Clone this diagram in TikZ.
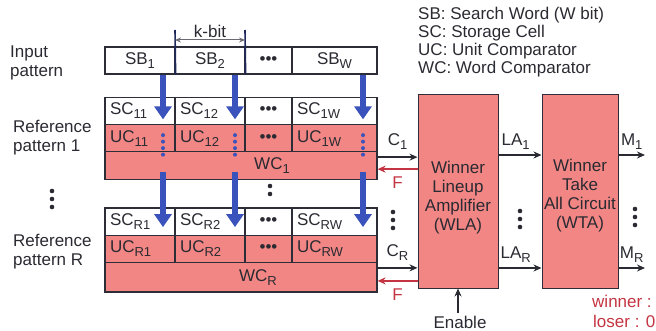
\documentclass[tikz,border=0pt]{standalone}
\usepackage{fontspec}
\setmainfont{Liberation Sans}
\usetikzlibrary{arrows.meta, calc, positioning}
\definecolor{cellfill}{RGB}{242, 134, 132}
\definecolor{cellstroke}{RGB}{45, 45, 55}
\definecolor{textcol}{RGB}{42, 42, 50}
\definecolor{searchblue}{RGB}{58, 82, 188}
\definecolor{feedred}{RGB}{196, 52, 66}
\definecolor{kbitcol}{RGB}{30, 40, 90}
\newcommand{\cellfont}{\fontsize{17}{19}\selectfont}
\newcommand{\legendfont}{\fontsize{17}{18}\selectfont}
% subscript as printed in the cells (nearly full size, dropped)
\newcommand{\sbs}[1]{\raisebox{-4pt}{\fontsize{13}{13}\selectfont #1}}
\newcommand{\rowDots}{•••}
\tikzset{
  % cells of the search word and of the reference patterns
  cell/.style={
    draw=cellstroke, line width=1.2pt, inner xsep=5pt, inner ysep=0pt,
    text=textcol, font=\cellfont, align=left
  },
  cw70/.style={text width=60pt},
  cw47/.style={text width=37pt, align=center},
  cw85/.style={text width=75pt},
  sbcell/.style={cell, fill=white, minimum height=27pt, align=center},
  sccell/.style={cell, fill=white, minimum height=27.5pt},
  uccell/.style={cell, fill=cellfill, minimum height=27pt},
  wcrow/.style={cell, fill=cellfill, minimum width=272pt},
  wclabel/.style={text=textcol, font=\cellfont, inner sep=0pt},
  %
  % WLA / WTA blocks
  circuit/.style={
    draw=cellstroke, line width=1pt, fill=cellfill,
    minimum height=193pt, inner sep=0pt
  },
  blocktext/.style={align=center, font=\cellfont, text=textcol, inner sep=0pt},
  %
  % plain texts
  rowlabel/.style={anchor=west, align=left, inner sep=0pt, font=\cellfont, text=textcol},
  legendtext/.style={anchor=west, align=left, inner sep=0pt, font=\legendfont, text=textcol},
  siglabel/.style={inner sep=0pt, font=\cellfont, text=textcol},
  feedlabel/.style={inner sep=0pt, font=\cellfont, text=feedred},
  outlabel/.style={anchor=west, inner sep=0pt, font=\cellfont, text=feedred},
  % vertical "more rows" marks: three round dots
  vdots/.style={draw=textcol, line width=4.6pt, line cap=round, dash pattern=on 0pt off 8pt},
  %
  % connectors
  searchflow/.style={
    draw=searchblue, line width=6pt, -{Triangle[width=17pt, length=13pt]}
  },
  searchdots/.style={
    draw=searchblue, line width=4pt, line cap=round, dash pattern=on 0pt off 6.5pt
  },
  sigarrow/.style={draw=textcol, line width=1.6pt, -{Stealth[length=8pt, width=7pt]}},
  feedback/.style={draw=feedred, line width=1.6pt, -{Stealth[length=8pt, width=7pt]}},
  kbit mark/.style={draw=kbitcol, line width=1.6pt},
  kbit arrow/.style={
    draw=textcol!70, line width=1pt,
    {Stealth[length=6pt, width=5pt]}-{Stealth[length=6pt, width=5pt]}
  },
}

\begin{document}
\begin{tikzpicture}[x=1pt, y=-1pt]
  \useasboundingbox (0,0) rectangle (656,331);

  %% ── Legend ────────────────────────────────────────────────────────────────
  \node[legendtext] (legend) at (418,42)
    {SB: Search Word (W bit)\\SC: Storage Cell\\UC: Unit Comparator\\WC: Word Comparator};

  %% ── Row labels ────────────────────────────────────────────────────────────
  \node[rowlabel] (lblIn)   at (10,63)    {Input\\pattern};
  \node[rowlabel] (lblRef1) at (13,137.5) {Reference\\pattern 1};
  \node[rowlabel] (lblRefR) at (13,251.5) {Reference\\pattern R};
  \coordinate (lblDots) at (52,191);
  \draw[vdots] (lblDots) -- ++(0,16);

  %% ── Input pattern (search word) ───────────────────────────────────────────
  \node[sbcell, cw70] (sb1) at (140,60.5)   {SB\sbs{1}};
  \node[sbcell, cw70] (sb2) at (210,60.5)   {SB\sbs{2}};
  \node[sbcell, cw47] (sbd) at (268.5,60.5) {\rowDots};
  \node[sbcell, cw85] (sbw) at (334.5,60.5) {SB\sbs{W}};

  %% k-bit width marker
  \coordinate (kL) at (175,30);
  \coordinate (kR) at (245,30);
  \draw[kbit mark] (sb1.south east) -- (kL);
  \draw[kbit mark] (sb2.south east) -- (kR);
  \draw[kbit arrow] ([yshift=-10pt]kL) -- node[above=2pt, siglabel] {k-bit} ([yshift=-10pt]kR);

  %% ── Reference pattern 1 ───────────────────────────────────────────────────
  \node[sccell, cw70] (sc11) at (140,111)   {SC\sbs{11}};
  \node[sccell, cw70] (sc12) at (210,111)   {SC\sbs{12}};
  \node[sccell, cw47] (sc1d) at (268.5,111) {\rowDots};
  \node[sccell, cw85] (sc1w) at (334.5,111) {SC\sbs{1W}};
  \node[uccell, cw70] (uc11) at (140,138.25)   {UC\sbs{11}};
  \node[uccell, cw70] (uc12) at (210,138.25)   {UC\sbs{12}};
  \node[uccell, cw47] (uc1d) at (268.5,138.25) {\rowDots};
  \node[uccell, cw85] (uc1w) at (334.5,138.25) {UC\sbs{1W}};
  \node[wcrow, minimum height=28pt, label={[wclabel, xshift=31pt]center:WC\sbs{1}}]
    (wc1) at (241,165.75) {};

  \coordinate (midDots) at (270,186);
  \draw[vdots] (midDots) -- ++(0,16);

  %% ── Reference pattern R ───────────────────────────────────────────────────
  \node[sccell, cw70] (scR1) at (140,221.75)   {SC\sbs{R1}};
  \node[sccell, cw70] (scR2) at (210,221.75)   {SC\sbs{R2}};
  \node[sccell, cw47] (scRd) at (268.5,221.75) {\rowDots};
  \node[sccell, cw85] (scRw) at (334.5,221.75) {SC\sbs{RW}};
  \node[uccell, cw70] (ucR1) at (140,249)   {UC\sbs{R1}};
  \node[uccell, cw70] (ucR2) at (210,249)   {UC\sbs{R2}};
  \node[uccell, cw47] (ucRd) at (268.5,249) {\rowDots};
  \node[uccell, cw85] (ucRw) at (334.5,249) {UC\sbs{RW}};
  \node[wcrow, minimum height=29.5pt, label={[wclabel, xshift=17pt]center:WC\sbs{R}}]
    (wcR) at (241,277.25) {};

  %% ── Search word flow (blue) ───────────────────────────────────────────────
  \coordinate (colA) at (163,0);
  \coordinate (colB) at (235,0);
  \coordinate (colC) at (363,0);
  \foreach \c/\sb/\sc/\uc/\scr in {colA/sb1/sc11/uc11/scR1, colB/sb2/sc12/uc12/scR2, colC/sbw/sc1w/uc1w/scRw} {
    \draw[searchflow] (\sb.south -| \c) -- ([yshift=6pt]\sc.south -| \c);
    \draw[searchdots] ([yshift=-11pt]\uc.north -| \c) -- ([yshift=-8pt]wc1.north -| \c);
    \draw[searchflow] ([yshift=8pt]wc1.south -| \c) -- ([yshift=9pt]\scr.south -| \c);
  }

  %% ── Winner Lineup Amplifier / Winner Take All ─────────────────────────────
  \node[circuit, minimum width=80pt,
        label={[blocktext, yshift=-6pt]center:Winner\\Lineup\\Amplifier\\(WLA)}]
    (wla) at (458,191.5) {};
  \node[circuit, minimum width=76pt,
        label={[blocktext, yshift=-4pt]center:Winner\\Take\\All Circuit\\(WTA)}]
    (wta) at (580,191.5) {};

  %% ── Comparator outputs C and feedback F ───────────────────────────────────
  \draw[sigarrow] ([yshift=-6pt]wc1.north east) --
    node[above=7pt, siglabel] {C\sbs{1}} ([yshift=-6pt]wc1.north -| wla.west);
  \draw[feedback] ([yshift=-18pt]wc1.north -| wla.west) --
    node[below=7pt, feedlabel] {F} ([yshift=-18pt]wc1.north east);
  \draw[sigarrow] ([yshift=-6pt]wcR.north east) --
    node[above=7pt, siglabel] {C\sbs{R}} ([yshift=-6pt]wcR.north -| wla.west);
  \draw[feedback] ([yshift=-19pt]wcR.north -| wla.west) --
    node[below=7pt, feedlabel] {F} ([yshift=-19pt]wcR.north east);
  \coordinate (cDots) at (393,212);
  \draw[vdots] (cDots) -- ++(0,16);

  %% ── LA and M outputs ──────────────────────────────────────────────────────
  \coordinate (m1) at (645,155);
  \coordinate (mR) at (645,268);
  \draw[sigarrow] (wla.east |- m1) -- node[above=5pt, pos=0.4, siglabel] {LA\sbs{1}} (wta.west |- m1);
  \draw[sigarrow] (wla.east |- mR) -- node[above=5pt, pos=0.4, siglabel] {LA\sbs{R}} (wta.west |- mR);
  \draw[sigarrow] (wta.east |- m1) -- node[above=5pt, siglabel] {M\sbs{1}} (m1);
  \draw[sigarrow] (wta.east |- mR) -- node[above=5pt, siglabel] {M\sbs{R}} (mR);
  \coordinate (laDots) at (520,211);
  \draw[vdots] (laDots) -- ++(0,16);
  \coordinate (mDots) at (635,209);
  \draw[vdots] (mDots) -- ++(0,16);

  %% ── Enable and output coding ──────────────────────────────────────────────
  \node[siglabel] (enable) at (460,322) {Enable};
  \draw[sigarrow, line width=1.3pt] ([yshift=3pt]enable.north -| wla.south) -- (wla.south);
  \node[outlabel] (winner) at (592,301) {winner :};
  \node[outlabel] (loser)  at (593,321) {loser : 0};

\end{tikzpicture}
\end{document}
